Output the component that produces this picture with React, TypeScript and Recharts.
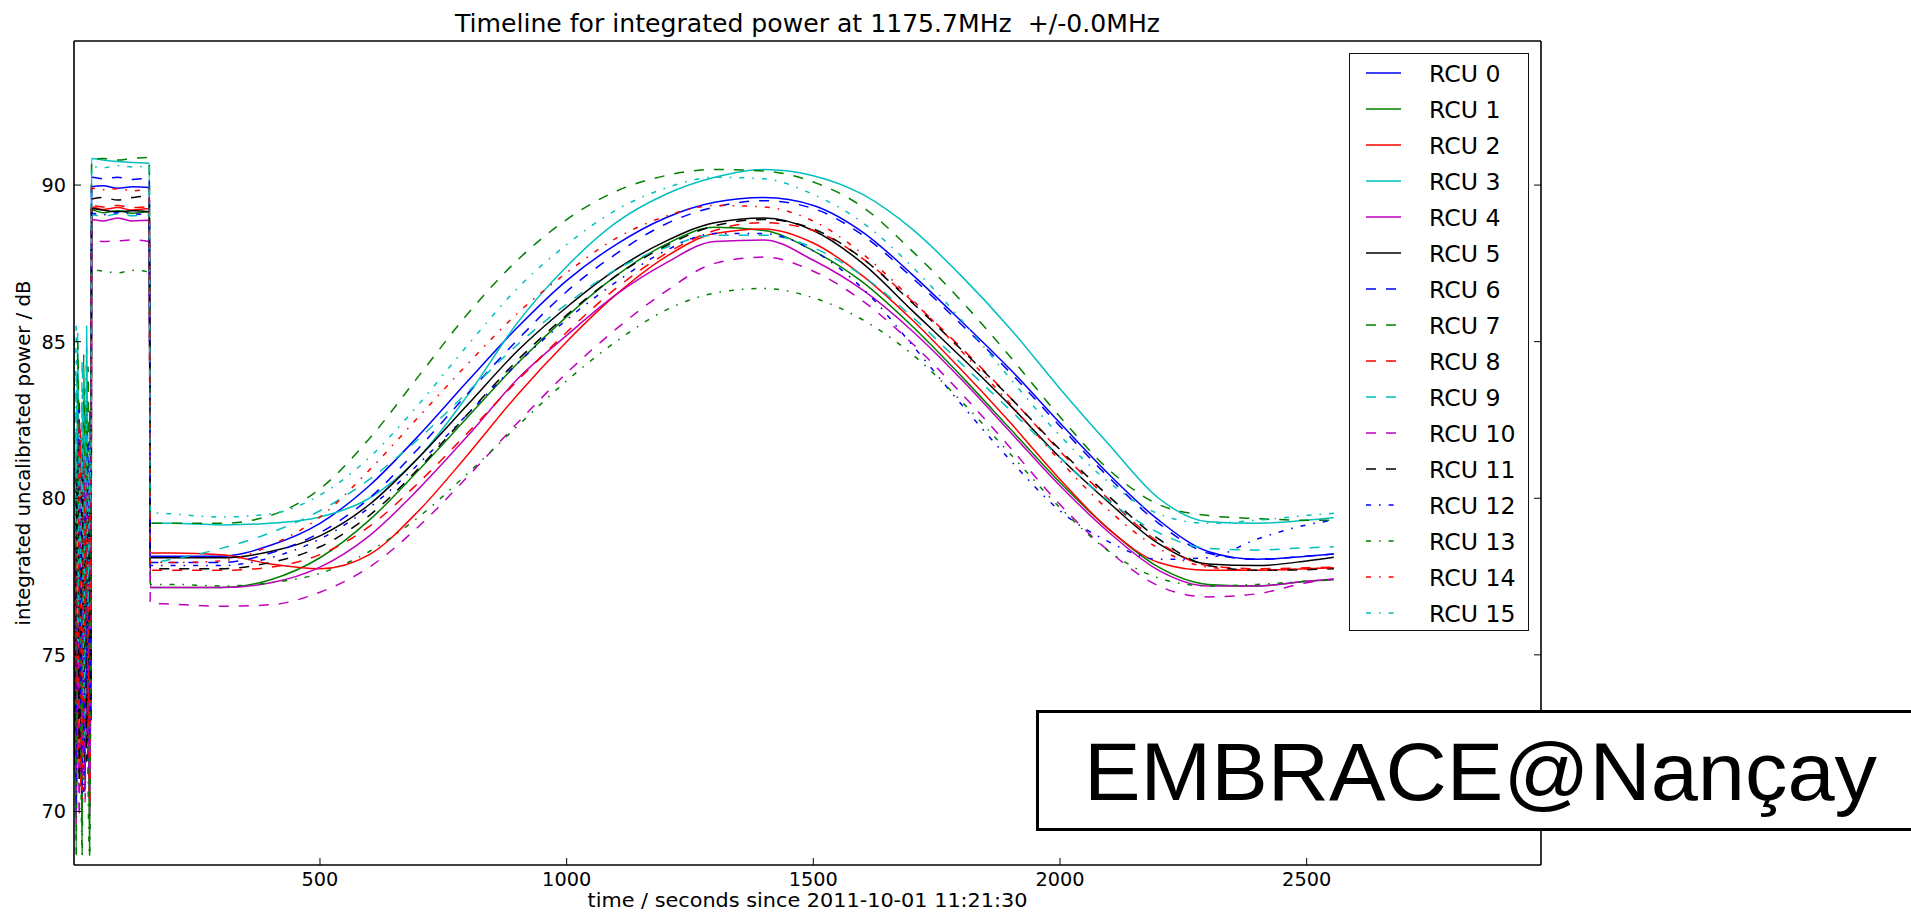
import { LineChart, Line, XAxis, YAxis, Legend } from "recharts"

// time axis: seconds since 2011-10-01 11:21:30
const noiseTimes = [1, 3, 6, 9, 12, 15, 18, 21, 24, 27, 30, 33, 36]
const plateauTimes = [37, 60, 90, 120, 154]
const sweepTimes = [
  156, 200, 300, 400, 500, 600, 700, 800, 900, 1000, 1100, 1200, 1300,
  1400, 1500, 1600, 1700, 1800, 1900, 2000, 2100, 2200, 2300, 2400, 2500, 2555,
]
const times = [...noiseTimes, ...plateauTimes, ...sweepTimes]

// integrated power per RCU, dB (start-up noise, calibration plateau, sun transit)
const rcu0 = [
  79.8, 73.2, 70.1, 82.4, 76.5, 80.9, 71.3, 78.2, 83.0, 74.6, 80.1, 72.0, 77.4,
  89.95, 89.98, 89.9, 89.95, 89.92,
  78.15, 78.15, 78.15, 78.5, 79.2, 80.4, 82.0, 83.75, 85.45, 86.95, 88.1, 88.95, 89.45,
  89.6, 89.35, 88.5, 87.15, 85.65, 84.1, 82.4, 80.75, 79.3, 78.3, 78.05, 78.15, 78.22,
]
const rcu1 = [
  85.2, 76.4, 68.6, 83.9, 79.5, 74.8, 68.6, 84.6, 78.8, 82.3, 75.1, 68.6, 80.7,
  89.2, 89.12, 89.18, 89.1, 89.15,
  77.15, 77.15, 77.15, 77.4, 78.1, 79.3, 80.9, 82.6, 84.3, 85.8, 87.1, 88.1, 88.65,
  88.55, 87.9, 86.9, 85.5, 83.9, 82.2, 80.5, 79.0, 77.8, 77.25, 77.2, 77.35, 77.4,
]
const rcu2 = [
  78.5, 82.1, 72.7, 75.9, 81.6, 70.8, 79.0, 73.4, 80.4, 77.1, 71.9, 82.8, 74.3,
  89.3, 89.22, 89.28, 89.2, 89.25,
  78.25, 78.25, 78.2, 77.9, 77.75, 78.2, 79.6, 81.4, 83.3, 85.0, 86.5, 87.7, 88.45,
  88.6, 88.15, 87.1, 85.7, 84.1, 82.4, 80.6, 79.0, 77.95, 77.7, 77.7, 77.75, 77.78,
]
const rcu3 = [
  84.9, 80.2, 74.3, 85.3, 77.6, 82.0, 73.5, 84.1, 76.9, 85.5, 79.3, 71.6, 83.2,
  90.85, 90.8, 90.75, 90.72, 90.7,
  79.2, 79.2, 79.15, 79.2, 79.4, 80.0, 81.3, 83.3, 85.6, 87.4, 88.8, 89.7, 90.25,
  90.5, 90.3, 89.7, 88.6, 87.1, 85.4, 83.5, 81.7, 80.0, 79.25, 79.2, 79.3, 79.38,
]
const rcu4 = [
  74.6, 79.3, 69.6, 77.8, 73.1, 80.6, 70.9, 76.2, 81.4, 72.5, 78.0, 69.9, 75.5,
  88.9, 88.85, 88.95, 88.85, 88.88,
  77.15, 77.15, 77.15, 77.3, 77.8, 78.8, 80.3, 82.0, 83.8, 85.2, 86.5, 87.5, 88.2,
  88.25, 87.6, 86.65, 85.35, 83.8, 82.1, 80.4, 78.9, 77.7, 77.2, 77.2, 77.35, 77.42,
]
const rcu5 = [
  77.2, 71.5, 80.8, 74.0, 79.7, 72.6, 81.9, 75.3, 70.7, 78.9, 73.8, 80.3, 72.9,
  89.25, 89.2, 89.15, 89.18, 89.15,
  78.1, 78.1, 78.1, 78.3, 78.8, 79.8, 81.3, 83.0, 84.7, 86.1, 87.3, 88.2, 88.8,
  88.95, 88.55, 87.5, 86.0, 84.5, 82.95, 81.3, 79.85, 78.55, 77.9, 77.85, 78.0, 78.12,
]
const rcu6 = [
  81.3, 75.7, 71.8, 79.4, 83.2, 74.1, 70.5, 80.6, 76.0, 82.7, 71.2, 77.9, 79.1,
  90.25, 90.2, 90.25, 90.18, 90.22,
  77.95, 77.95, 77.95, 78.25, 78.9, 80.0, 81.6, 83.35, 85.05, 86.6, 87.8, 88.75, 89.3,
  89.5, 89.25, 88.4, 87.05, 85.55, 84.0, 82.3, 80.65, 79.2, 78.25, 78.05, 78.15, 78.22,
]
const rcu7 = [
  84.6, 78.0, 70.4, 85.0, 80.9, 76.7, 72.1, 83.5, 81.2, 78.4, 84.2, 74.9, 82.5,
  90.82, 90.85, 90.8, 90.85, 90.88,
  79.2, 79.2, 79.2, 79.45, 80.3, 81.9, 83.9, 85.9, 87.6, 88.9, 89.8, 90.3, 90.5,
  90.45, 90.1, 89.3, 87.9, 86.3, 84.5, 82.6, 80.9, 79.8, 79.45, 79.35, 79.3, 79.3,
]
const rcu8 = [
  76.3, 80.5, 73.9, 78.6, 71.4, 82.2, 75.0, 79.8, 72.3, 81.1, 76.6, 70.2, 78.1,
  89.35, 89.3, 89.35, 89.28, 89.3,
  77.7, 77.7, 77.7, 77.8, 78.2, 79.1, 80.5, 82.1, 83.75, 85.3, 86.7, 87.8, 88.55,
  88.8, 88.55, 87.65, 86.3, 84.8, 83.2, 81.5, 79.95, 78.6, 77.85, 77.75, 77.78, 77.8,
]
const rcu9 = [
  82.8, 77.5, 83.9, 73.0, 80.3, 75.4, 84.4, 78.7, 71.9, 83.6, 76.3, 81.0, 74.2,
  89.05, 89.0, 89.08, 89.02, 89.05,
  77.95, 78.05, 78.4, 78.9, 79.6, 80.6, 81.9, 83.4, 84.9, 86.2, 87.3, 88.0, 88.4,
  88.4, 88.0, 87.1, 85.8, 84.3, 82.8, 81.3, 79.9, 78.9, 78.4, 78.35, 78.42, 78.45,
]
const rcu10 = [
  73.4, 78.8, 70.6, 76.1, 69.8, 79.9, 72.4, 77.0, 70.3, 80.5, 74.7, 71.1, 76.9,
  88.25, 88.2, 88.22, 88.25, 88.2,
  76.65, 76.62, 76.55, 76.6, 77.0, 77.8, 79.1, 80.7, 82.4, 84.0, 85.4, 86.6, 87.5,
  87.7, 87.25, 86.3, 84.95, 83.35, 81.6, 79.8, 78.3, 77.2, 76.85, 76.95, 77.3, 77.42,
]
const rcu11 = [
  79.1, 72.8, 77.6, 81.7, 70.9, 76.0, 80.0, 73.7, 78.5, 71.6, 79.4, 75.8, 73.1,
  89.55, 89.6, 89.52, 89.6, 89.65,
  77.75, 77.75, 77.75, 77.95, 78.45, 79.45, 80.95, 82.7, 84.4, 85.85, 87.1, 88.05, 88.7,
  88.9, 88.6, 87.65, 86.25, 84.75, 83.2, 81.55, 80.05, 78.7, 77.85, 77.7, 77.72, 77.75,
]
const rcu12 = [
  75.6, 81.0, 70.0, 78.3, 82.5, 73.3, 76.8, 70.6, 79.6, 74.0, 81.8, 72.2, 77.7,
  89.1, 89.05, 89.12, 89.08, 89.05,
  77.85, 77.85, 77.85, 78.1, 78.7, 79.7, 81.1, 82.7, 84.3, 85.7, 86.9, 87.9, 88.45,
  88.45, 87.9, 86.7, 84.9, 83.0, 81.2, 79.6, 78.6, 78.05, 78.1, 78.7, 79.15, 79.3,
]
const rcu13 = [
  83.7, 75.2, 68.6, 81.5, 77.3, 72.0, 68.6, 80.1, 74.6, 83.0, 70.8, 68.6, 78.9,
  87.3, 87.25, 87.2, 87.28, 87.22,
  77.25, 77.25, 77.2, 77.3, 77.6, 78.3, 79.4, 80.8, 82.3, 83.75, 85.0, 86.0, 86.55,
  86.7, 86.4, 85.7, 84.6, 83.1, 81.4, 79.7, 78.3, 77.45, 77.2, 77.25, 77.35, 77.4,
]
const rcu14 = [
  80.6, 74.1, 78.9, 71.7, 82.6, 76.4, 70.4, 81.3, 75.5, 79.2, 72.7, 80.8, 76.0,
  89.9, 89.85, 89.88, 89.82, 89.85,
  77.95, 77.95, 78.0, 78.5, 79.4, 80.9, 82.6, 84.3, 85.9, 87.2, 88.3, 89.0, 89.35,
  89.3, 88.85, 87.8, 86.35, 84.7, 83.0, 81.2, 79.6, 78.4, 77.8, 77.7, 77.75, 77.78,
]
const rcu15 = [
  84.2, 79.0, 85.6, 75.9, 81.4, 77.8, 83.3, 73.6, 80.7, 84.8, 76.5, 82.1, 79.8,
  90.6, 90.55, 90.62, 90.58, 90.6,
  79.55, 79.5, 79.4, 79.5, 80.1, 81.3, 83.0, 84.9, 86.7, 88.1, 89.2, 89.9, 90.25,
  90.2, 89.7, 88.8, 87.4, 85.7, 83.8, 82.0, 80.5, 79.5, 79.2, 79.3, 79.45, 79.52,
]

const rcuValues = [
  rcu0, rcu1, rcu2, rcu3, rcu4, rcu5, rcu6, rcu7,
  rcu8, rcu9, rcu10, rcu11, rcu12, rcu13, rcu14, rcu15,
]
const rcuNames = rcuValues.map((_, i) => `RCU ${i}`)

const xTicks = [500, 1000, 1500, 2000, 2500]
const yTicks = [70, 75, 80, 85, 90]

// matplotlib-style cycle: b g r c m k, then '-', '--', '-.'
const COLORS = ["#0000ff", "#008000", "#ff0000", "#00bfbf", "#bf00bf", "#000000"]
const DASHES = [undefined, "10 10", "5 8 1.6 8"]
const colorOf = (i: number) => COLORS[i % COLORS.length]
const dashOf = (i: number) => DASHES[Math.floor(i / COLORS.length)]

const FONT = "'DejaVu Sans', 'Bitstream Vera Sans', sans-serif"
const TICK_FONT = 19.3
const LARGE_FONT = 23.6

const data = times.map((t, row) => {
  const entry: Record<string, number> = { t }
  rcuValues.forEach((vals, i) => {
    entry[`rcu${i}`] = vals[row]
  })
  return entry
})

const TICK_LEN = 7

function BottomTick(props: any) {
  const { x, y, payload } = props
  return (
    <g>
      <line x1={x} x2={x} y1={y} y2={y - TICK_LEN} stroke="#000" strokeWidth={1} />
      <text x={x} y={y + 21} textAnchor="middle" fontSize={TICK_FONT} fontFamily={FONT} fill="#000">
        {payload.value}
      </text>
    </g>
  )
}

function TopTick(props: any) {
  const { x, y } = props
  return <line x1={x} x2={x} y1={y} y2={y + TICK_LEN} stroke="#000" strokeWidth={1} />
}

function LeftTick(props: any) {
  const { x, y, payload } = props
  return (
    <g>
      <line x1={x} x2={x + TICK_LEN} y1={y} y2={y} stroke="#000" strokeWidth={1} />
      <text x={x - 8} y={y + 7} textAnchor="end" fontSize={TICK_FONT} fontFamily={FONT} fill="#000">
        {payload.value}
      </text>
    </g>
  )
}

function RightTick(props: any) {
  const { x, y } = props
  return <line x1={x} x2={x - TICK_LEN} y1={y} y2={y} stroke="#000" strokeWidth={1} />
}

function XLabel(props: any) {
  const vb = props.viewBox ?? { x: 74, y: 865, width: 1467, height: 30 }
  return (
    <text
      x={vb.x + vb.width / 2}
      y={vb.y + 42}
      textAnchor="middle"
      fontSize={TICK_FONT}
      fontFamily={FONT}
      fill="#000"
      textLength={440}
      lengthAdjust="spacingAndGlyphs"
    >
      time / seconds since 2011-10-01 11:21:30
    </text>
  )
}

function YLabel(props: any) {
  const vb = props.viewBox ?? { x: 14, y: 41, width: 60, height: 824 }
  const cx = vb.x + 16
  const cy = vb.y + vb.height / 2
  return (
    <text
      x={cx}
      y={cy}
      transform={`rotate(-90 ${cx} ${cy})`}
      textAnchor="middle"
      fontSize={TICK_FONT}
      fontFamily={FONT}
      fill="#000"
      textLength={345}
      lengthAdjust="spacingAndGlyphs"
    >
      integrated uncalibrated power / dB
    </text>
  )
}

function LegendBox() {
  return (
    <div
      style={{
        width: 180,
        height: 578,
        boxSizing: "border-box",
        border: "1px solid #111",
        background: "#fff",
      }}
    >
      <svg width={178} height={576}>
        {rcuNames.map((name, i) => {
          const cy = 19 + i * 36
          return (
            <g key={name}>
              <line
                x1={16}
                x2={51}
                y1={cy}
                y2={cy}
                stroke={colorOf(i)}
                strokeWidth={1.6}
                strokeDasharray={dashOf(i)}
              />
              <text x={79} y={cy + 8.6} fontSize={LARGE_FONT} fontFamily={FONT} fill="#000">
                {name}
              </text>
            </g>
          )
        })}
      </svg>
    </div>
  )
}

const axisLine = { stroke: "#000", strokeWidth: 1.6 }
const xDomain: [number, number] = [1.4, 2975]
const yDomain: [number, number] = [68.29, 94.6]

export default function App() {
  return (
    <div
      style={{
        position: "absolute",
        left: 0,
        top: 0,
        width: 1911,
        height: 912,
        overflow: "hidden",
        background: "#fff",
        fontFamily: FONT,
      }}
    >
      <LineChart width={1911} height={912} data={data} margin={{ top: 11, right: 310, bottom: 17, left: 14 }}>
        <XAxis
          dataKey="t"
          type="number"
          domain={xDomain}
          ticks={xTicks}
          allowDataOverflow
          interval={0}
          height={30}
          tickLine={false}
          tickSize={0}
          tickMargin={0}
          tick={BottomTick}
          axisLine={axisLine}
          label={XLabel}
        />
        <XAxis
          xAxisId="top"
          orientation="top"
          type="number"
          domain={xDomain}
          ticks={xTicks}
          allowDataOverflow
          interval={0}
          height={30}
          tickLine={false}
          tickSize={0}
          tickMargin={0}
          tick={TopTick}
          axisLine={axisLine}
        />
        <YAxis
          type="number"
          domain={yDomain}
          ticks={yTicks}
          allowDataOverflow
          interval={0}
          width={60}
          tickLine={false}
          tickSize={0}
          tickMargin={0}
          tick={LeftTick}
          axisLine={axisLine}
          label={YLabel}
        />
        <YAxis
          yAxisId="right"
          orientation="right"
          type="number"
          domain={yDomain}
          ticks={yTicks}
          allowDataOverflow
          interval={0}
          width={60}
          tickLine={false}
          tickSize={0}
          tickMargin={0}
          tick={RightTick}
          axisLine={axisLine}
        />
        {rcuNames.map((name, i) => (
          <Line
            key={name}
            name={name}
            dataKey={`rcu${i}`}
            type="monotone"
            stroke={colorOf(i)}
            strokeWidth={1.5}
            strokeDasharray={dashOf(i)}
            dot={false}
            activeDot={false}
            isAnimationActive={false}
          />
        ))}
        <Legend
          layout="vertical"
          align="center"
          verticalAlign="middle"
          wrapperStyle={{ left: 1349, top: 53, width: 180, height: 578 }}
          content={() => <LegendBox />}
        />
      </LineChart>

      <svg
        width={1911}
        height={912}
        style={{ position: "absolute", left: 0, top: 0, pointerEvents: "none" }}
      >
        <text
          x={807.5}
          y={32}
          textAnchor="middle"
          fontSize={24}
          fontFamily={FONT}
          fill="#000"
          textLength={705}
          lengthAdjust="spacingAndGlyphs"
          style={{ whiteSpace: "pre" }}
        >
          {"Timeline for integrated power at 1175.7MHz  +/-0.0MHz"}
        </text>
        <rect x={1037.5} y={711.5} width={1000} height={118} fill="#fff" stroke="#000" strokeWidth={3} />
        <text
          x={1084}
          y={800}
          fontSize={81}
          fontFamily="'Liberation Sans', Arial, sans-serif"
          fill="#000"
          textLength={793}
          lengthAdjust="spacingAndGlyphs"
        >
          EMBRACE@Nançay
        </text>
      </svg>
    </div>
  )
}
